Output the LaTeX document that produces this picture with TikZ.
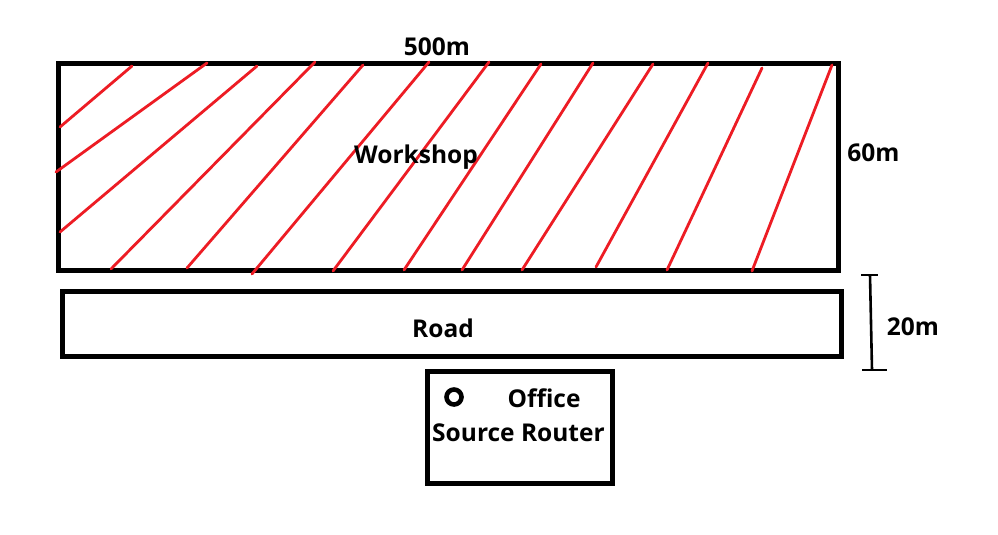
\documentclass[tikz,border=0pt]{standalone}
\usepackage{fontspec}
\setmainfont{Open Sans}
\definecolor{paintred}{RGB}{237,28,36}
\tikzset{
  box/.style={draw=black,line width=5pt,fill=none,miter limit=10},
  hatch/.style={draw=paintred,line width=2.8pt,line cap=round},
  lbl/.style={font=\fontsize{24.5}{26}\selectfont\bfseries,text=black,inner sep=0pt,anchor=center},
  dim/.style={draw=black,line width=2.6pt}
}
\begin{document}
\begin{tikzpicture}[x=1pt,y=-1pt]
\useasboundingbox (0,0) rectangle (998,535);
\fill[white] (0,0) rectangle (998,535);
\draw[box] (58.5,63.5) rectangle (838.5,270.5);
\draw[box] (62.5,291.5) rectangle (841.5,356.5);
\draw[box] (427,371.5) rectangle (612,483);
\foreach \a/\b/\c/\d in {60/127/132/66,56/172/207/63,60/232/257/66,111/269/315/62,187/268/363/65,252/274/429/62,333/271/489/62,404/270/541/64,462/270/593/63,522/270/653/64,596/267/708/63,667/270/762/68,752/271/832/65}
  \draw[hatch] (\a,\b) -- (\c,\d);
\node[lbl] (top) at (437,46.5) {500m};
\node[lbl] (shop) at (416,157.5) {Workshop};
\node[lbl] (sixty) at (873.5,153) {60m};
\node[lbl] (road) at (443,328) {Road};
\node[lbl] (twenty) at (913,327) {20m};
\node[lbl] (office) at (544,398) {Office};
\node[lbl] (router) at (518.5,432.5) {Source Router};
\node[draw=black,line width=4.6pt,circle,minimum size=15pt,inner sep=0pt] (src) at (454,397) {};
\coordinate (dt) at (870,275);
\coordinate (db) at (872,370);
\draw[dim] (dt) -- (db);
\draw[dim] (861,275) -- (878,275);
\draw[dim] (862,370) -- (887,370);
\end{tikzpicture}
\end{document}
